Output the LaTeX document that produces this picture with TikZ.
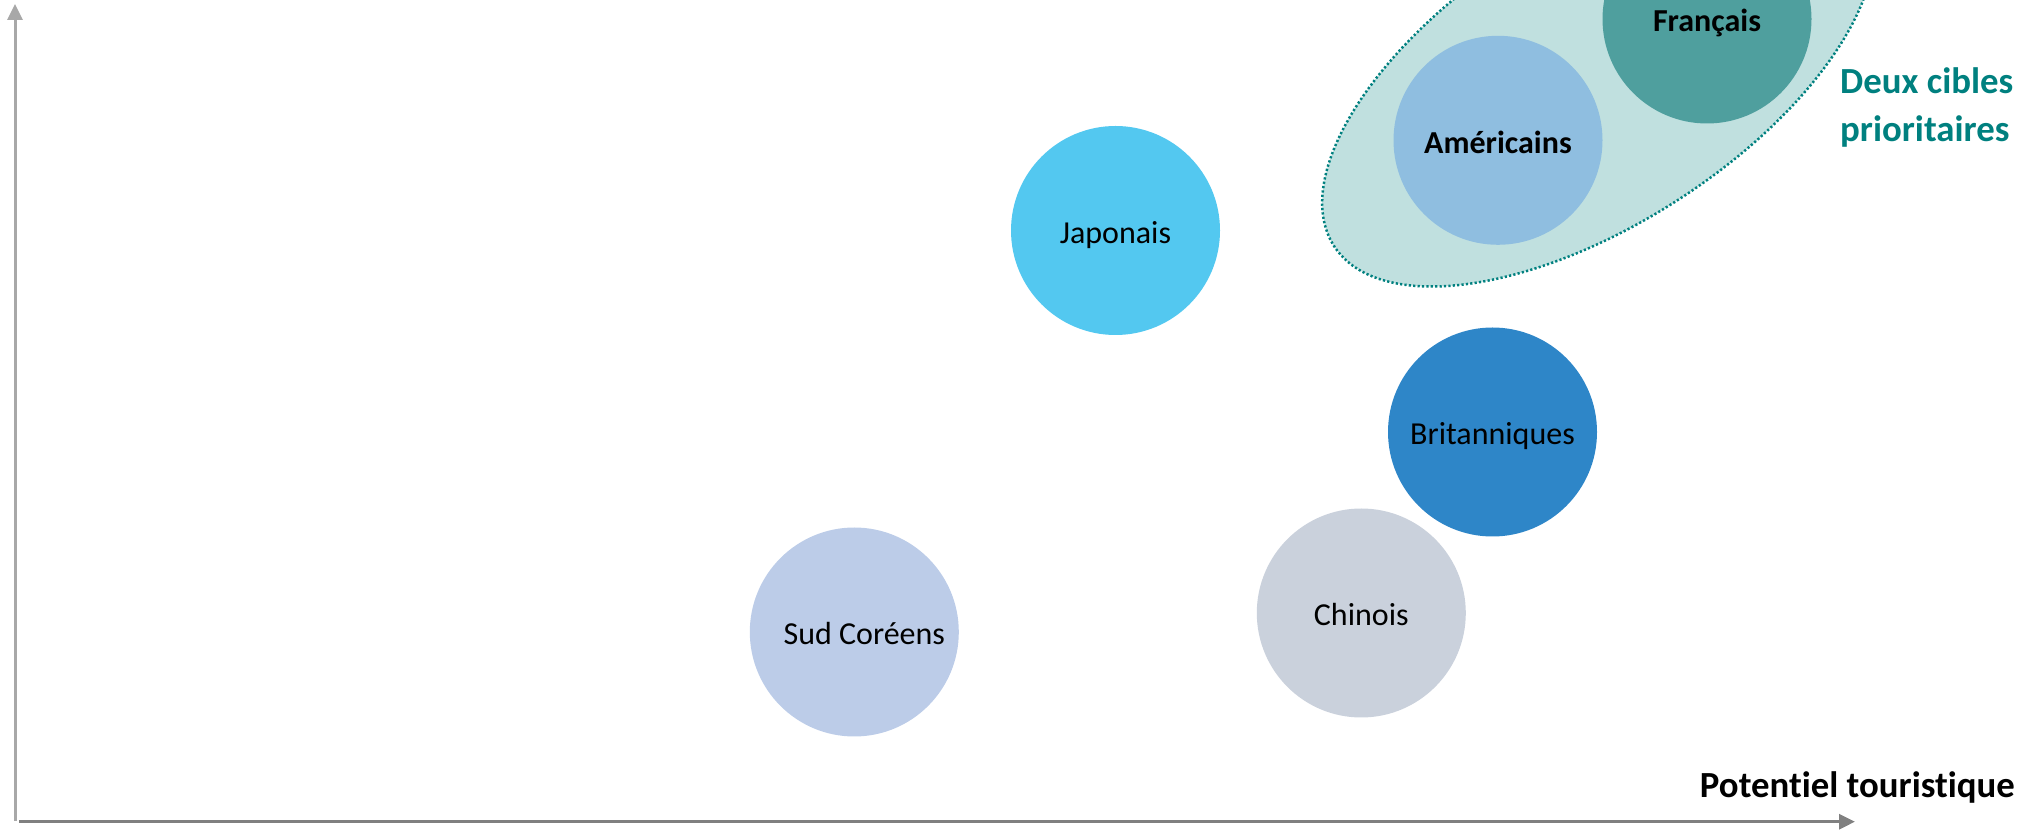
\documentclass[tikz,border=0pt]{standalone}
\usepackage{fontspec}
\setmainfont[Ligatures=NoCommon]{Carlito}
\usetikzlibrary{arrows.meta}
\definecolor{cJap}{RGB}{83,200,240}
\definecolor{cAme}{RGB}{143,190,224}
\definecolor{cFra}{RGB}{79,159,158}
\definecolor{cBri}{RGB}{46,134,200}
\definecolor{cChi}{RGB}{202,209,220}
\definecolor{cSud}{RGB}{188,204,232}
\definecolor{cZone}{RGB}{192,224,223}
\definecolor{cTeal}{RGB}{0,128,127}
\definecolor{cAxisV}{RGB}{168,168,168}
\definecolor{cAxisH}{RGB}{128,128,128}
\begin{document}
\begin{tikzpicture}[x=1pt,y=1pt,
  bubble/.style={circle, inner sep=0pt, minimum size=209pt, text height=26pt, text depth=0pt,
                 font=\fontsize{32}{38}\selectfont, text=black},
  boldbubble/.style={bubble, font=\fontsize{32}{38}\selectfont\bfseries},
  axisline/.style={line width=3pt, -{Triangle[length=16pt,width=15pt]}},
  biglabel/.style={font=\fontsize{36.8}{44}\selectfont\bfseries, inner sep=0pt}]
\useasboundingbox (0,0) rectangle (2038,830);
\clip (0,0) rectangle (2038,830);
% priority zone
\fill[cZone, rotate around={32.8:(1598,754)}] (1598,754) ellipse [x radius=314pt, y radius=147.5pt];
\draw[cTeal, line width=2.5pt, dash pattern=on 2.2pt off 2.2pt, rotate around={32.8:(1598,754)}]
  (1598,754) ellipse [x radius=314pt, y radius=147.5pt];
% bubbles
\node[bubble, fill=cJap] (jap) at (1115.5,599.5) {Japonais};
\node[boldbubble, fill=cAme] (ame) at (1498,689.7) {Américains};
\node[boldbubble, fill=cFra] (fra) at (1707,811) {Français};
\node[bubble, fill=cBri] (bri) at (1492.5,398) {Britanniques};
\node[bubble, fill=cChi] (chi) at (1361.3,217) {Chinois};
\node[bubble, fill=cSud] (sud) at (854.3,198) {\hspace*{20pt}Sud Coréens};
% labels
\node[biglabel, text=cTeal, anchor=base west] (deux1) at (1840,736) {Deux cibles};
\node[biglabel, text=cTeal, anchor=base west] (deux2) at (1840,688) {prioritaires};
\node[biglabel, text=black, anchor=base east] (pot) at (2015,32) {Potentiel touristique};
% axes
\coordinate (vbot) at (15,9);
\coordinate (vtop) at (15,826);
\coordinate (hleft) at (19,8.3);
\coordinate (hright) at (1855,8.3);
\draw[axisline, cAxisV] (vbot) -- (vtop);
\draw[axisline, cAxisH] (hleft) -- (hright);
\end{tikzpicture}
\end{document}
